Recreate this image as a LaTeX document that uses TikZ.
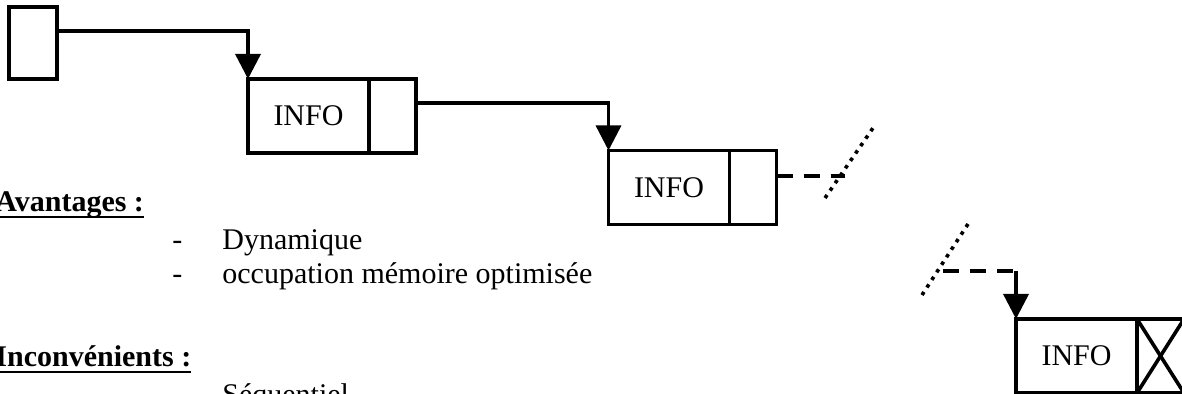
\documentclass[tikz,border=0pt]{standalone}
\usepackage{fontspec}
\setmainfont{Liberation Serif}
\usetikzlibrary{arrows.meta}

\newlength\ulwd
\newcommand\ultitle[1]{\settowidth\ulwd{\textbf{#1}}\textbf{#1}\llap{\rule[-3.2pt]{\ulwd}{1.3pt}}}

\tikzset{
  cell/.style={draw, line width=1.8pt, minimum height=37pt, inner sep=0pt, outer sep=0pt},
  infocell/.style={cell, minimum width=60.5pt},
  ptrcell/.style={cell, minimum width=23.5pt},
  link/.style={line width=1.7pt, -{Triangle[width=12.5pt,length=12.5pt]}},
  dashlink/.style={line width=2pt, dash pattern=on 8pt off 5.5pt},
  cut/.style={line width=1.8pt, dash pattern=on 1.8pt off 2.7pt},
  txt/.style={inner sep=0pt, anchor=base west}
}

\begin{document}
\begin{tikzpicture}[x=0.5pt, y=-0.5pt, font=\fontsize{15}{18}\selectfont]
\useasboundingbox (0,0) rectangle (1182,394);
\clip (0,0) rectangle (1182,394);

    \node[cell, minimum width=24pt, minimum height=36pt] (head) at (33,43) {};

    \node[infocell] (info1) at (308.5,116) {INFO};
    \node[ptrcell, anchor=west] (ptr1) at (info1.east) {};

    \node[infocell] (info2) at (669,187.5) {INFO};
    \node[ptrcell, anchor=west] (ptr2) at (info2.east) {};

    \node[infocell] (info3) at (1076.5,356) {INFO};
    \node[ptrcell, anchor=west] (ptr3) at (info3.east) {};
    \draw[line width=1.8pt] (ptr3.north west) -- (ptr3.south east);
    \draw[line width=1.8pt] (ptr3.south west) -- (ptr3.north east);

    \draw[link] ([yshift=6pt]head.east) -| (info1.north west);
    \draw[link] ([yshift=6.5pt]ptr1.east) -| (info2.north west);

    \coordinate (end2) at (845,176);
    \draw[dashlink] ([yshift=5.75pt]ptr2.east) -- (end2);
    \coordinate (cutA1) at (825,198);
    \coordinate (cutA2) at (873,128);
    \draw[cut] (cutA1) -- (cutA2);

    \coordinate (start3) at (943,271);
    \coordinate (bend3) at (info3.north west |- start3);
    \draw[dashlink] (start3) -- (bend3);
    \draw[link] (bend3) -- (info3.north west);
    \coordinate (cutB1) at (922,295);
    \coordinate (cutB2) at (968,224);
    \draw[cut] (cutB1) -- (cutB2);

    \node[txt] (adv) at (-5,212) {\ultitle{Avantages :}};
    \node[txt] (dash1) at (172,250) {-};
    \node[txt] (item1) at (222,250) {Dynamique};
    \node[txt] (dash2) at (172,284) {-};
    \node[txt] (item2) at (222,284) {occupation mémoire optimisée};

    \node[txt] (inc) at (-5,367) {\ultitle{Inconvénients :}};
    \node[txt] (dash3) at (172,405) {-};
    \node[txt] (item3) at (222,405) {Séquentiel};
\end{tikzpicture}
\end{document}
